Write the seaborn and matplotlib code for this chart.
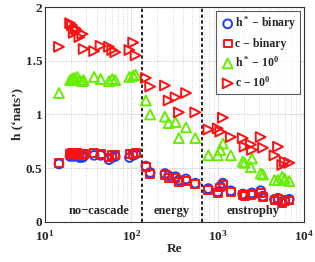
import numpy as np
import pandas as pd
import matplotlib
matplotlib.use("Agg")
import matplotlib.pyplot as plt
import seaborn as sns

# ---------------- data ----------------
Re = [14.5, 19.5, 20.5, 21.5, 22.5, 23.5, 25, 27, 28, 37, 44, 55, 60, 65, 95, 105, 112,
      147, 165, 245, 270, 325, 355, 430, 550,
      780, 1000, 1070, 1150, 1420, 1950, 2050, 2420, 2500, 3150, 3350, 4550, 5000, 5600, 6000, 6750]
h_binary = [0.54, 0.61, 0.62, 0.61, 0.62, 0.62, 0.60, 0.60, 0.61, 0.62, 0.62, 0.58, 0.60, 0.61, 0.60, 0.62, 0.63,
            0.52, 0.46, 0.45, 0.43, 0.42, 0.39, 0.40, 0.36,
            0.31, 0.28, 0.33, 0.36, 0.29, 0.26, 0.25, 0.26, 0.27, 0.29, 0.24, 0.21, 0.22, 0.19, 0.20, 0.21]
c_binary = [0.55, 0.63, 0.64, 0.64, 0.63, 0.64, 0.62, 0.63, 0.63, 0.64, 0.63, 0.60, 0.62, 0.62, 0.63, 0.63, 0.64,
            0.51, 0.45, 0.44, 0.41, 0.41, 0.37, 0.38, 0.35,
            0.30, 0.27, 0.32, 0.34, 0.28, 0.25, 0.24, 0.25, 0.26, 0.27, 0.23, 0.20, 0.21, 0.18, 0.19, 0.20]
h_10 = [1.20, 1.32, 1.33, 1.34, 1.33, 1.35, 1.32, 1.31, 1.32, 1.35, 1.33, 1.31, 1.33, 1.32, 1.35, 1.36, 1.37,
        1.13, 1.00, 0.98, 0.92, 0.93, 0.78, 0.88, 0.78,
        0.62, 0.62, 0.67, 0.73, 0.62, 0.56, 0.55, 0.51, 0.59, 0.45, 0.44, 0.39, 0.39, 0.42, 0.40, 0.38]
c_10 = [1.63, 1.85, 1.83, 1.76, 1.80, 1.78, 1.72, 1.75, 1.61, 1.59, 1.64, 1.63, 1.60, 1.58, 1.60, 1.67, 1.55,
        1.34, 1.26, 1.27, 1.13, 1.16, 1.02, 1.20, 1.02,
        0.86, 0.87, 0.84, 0.97, 0.79, 0.78, 0.70, 0.72, 0.67, 0.79, 0.69, 0.62, 0.70, 0.53, 0.56, 0.55]
labels = ["h$^*$ \u2212 binary", "c \u2212 binary", "h$^*$ \u2212 10$^0$", "c \u2212 10$^0$"]
regime_bounds = [134, 662]
regime_names = ["no\u2212cascade", "energy", "enstrophy"]
regime_pos = [42, 295, 2600]
xticks = [10, 100, 1000, 10000]
xticklabels = ["10$^1$", "10$^2$", "10$^3$", "10$^4$"]
yticks = [0, 0.5, 1, 1.5, 2]
yticklabels = ["0", "0.5", "1", "1.5", "2"]

df = pd.DataFrame({"Re": Re, "hb": h_binary, "cb": c_binary, "h10": h_10, "c10": c_10})

# ---------------- style ----------------
sns.set_style("white")
plt.rcParams["font.family"] = ["Liberation Serif", "DejaVu Serif"]
plt.rcParams["font.weight"] = "bold"
plt.rcParams["mathtext.fontset"] = "custom"
plt.rcParams["mathtext.rm"] = "Liberation Serif:bold"
plt.rcParams["mathtext.it"] = "Liberation Serif:bold"
plt.rcParams["mathtext.bf"] = "Liberation Serif:bold"

fig = plt.figure(figsize=(3.15, 2.62), dpi=100)
ax = fig.add_axes([0.143, 0.153, 0.822, 0.82])

specs = [("hb", "o", "#1f3cff", 40), ("cb", "s", "#ff1010", 32),
         ("h10", "^", "#66ee00", 50), ("c10", ">", "#ff1010", 50)]
for (col, mk, colr, s), lab in zip(specs, labels):
    sns.scatterplot(data=df, x="Re", y=col, marker=mk, s=s, facecolors="none",
                    edgecolor=colr, linewidth=1.4, ax=ax, label=lab, zorder=3)

ax.set_xscale("log")
ax.set_xlim(10, 10000)
ax.set_ylim(0, 2)
ax.set_xticks(xticks)
ax.set_xticklabels(xticklabels)
ax.set_yticks(yticks)
ax.set_yticklabels(yticklabels)
ax.grid(True, which="major", axis="both", linestyle=":", color="#bbbbbb", linewidth=0.7)
ax.grid(True, which="minor", axis="x", linestyle=":", color="#cccccc", linewidth=0.6)
ax.tick_params(axis="both", which="major", labelsize=9.5, direction="in", length=3)
ax.tick_params(axis="x", which="major", pad=5)
ax.tick_params(axis="y", which="major", pad=2)
ax.tick_params(axis="x", which="minor", direction="in", length=1.5)
for lbl in ax.get_xticklabels() + ax.get_yticklabels():
    lbl.set_fontweight("bold")
for sp in ax.spines.values():
    sp.set_color("#333333")
    sp.set_linewidth(0.8)

for b in regime_bounds:
    ax.axvline(b, color="black", linestyle=(0, (2, 1.5)), linewidth=1.2, zorder=2)
for name, xp in zip(regime_names, regime_pos):
    ax.text(xp, 0.1, name, ha="center", va="center", fontsize=9, fontweight="bold")

ax.set_xlabel("Re", fontsize=9.5, fontweight="bold", labelpad=0)
ax.set_ylabel("h (\u2018nats\u2019)", fontsize=9.5, fontweight="bold", labelpad=2)

leg = ax.legend(loc="upper right", fontsize=8.5, handletextpad=0.0, borderpad=0.35,
                labelspacing=0.45, handlelength=1.2, frameon=True, fancybox=False,
                borderaxespad=0.3)
leg.get_frame().set_edgecolor("#333333")
leg.get_frame().set_linewidth(0.8)
for t in leg.get_texts():
    t.set_fontweight("bold")

fig.savefig("out.png", dpi=100)
